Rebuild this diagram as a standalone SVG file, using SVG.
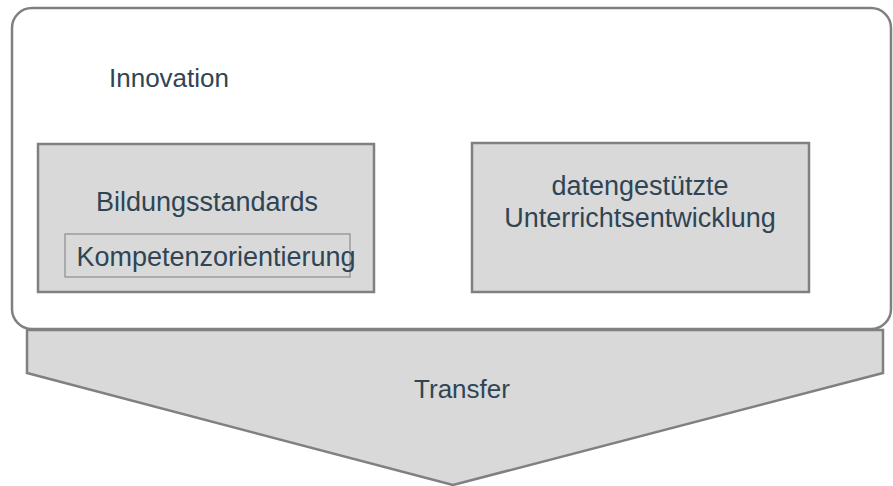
<svg xmlns="http://www.w3.org/2000/svg" width="893" height="486" viewBox="0 0 893 486">
<style>
.shape{fill:#d9d9d9;stroke:#808080;stroke-width:2.5}
.lbl{font-family:"Liberation Sans",Arial,sans-serif;font-size:26px;fill:#2f4554;text-anchor:middle}
.big{font-size:27px}
</style>
<rect width="893" height="486" fill="#ffffff"/>
<g id="transfer">
<polygon class="shape" points="27,330 883,330 883,373 453,485 27,373"/>
<text class="lbl" x="462" y="398">Transfer</text>
</g>
<g id="innovation">
<rect x="12" y="8" width="879" height="321" rx="20" ry="20" fill="#ffffff" stroke="#808080" stroke-width="2.5"/>
<text class="lbl" x="169" y="87">Innovation</text>
</g>
<g id="bildungsstandards">
<rect class="shape" x="38" y="144" width="336" height="148"/>
<text class="lbl big" x="207" y="211">Bildungsstandards</text>
</g>
<g id="kompetenzorientierung">
<rect x="65" y="234" width="285" height="43" fill="none" stroke="#8c8c8c" stroke-width="1.2"/>
<text class="lbl big" x="216" y="266">Kompetenzorientierung</text>
</g>
<g id="datengestuetzte">
<rect class="shape" x="472" y="143" width="337" height="149"/>
<text class="lbl big" x="640" y="195">datengestützte</text>
<text class="lbl big" x="640" y="227">Unterrichtsentwicklung</text>
</g>
<g id="connectors"></g>
</svg>
